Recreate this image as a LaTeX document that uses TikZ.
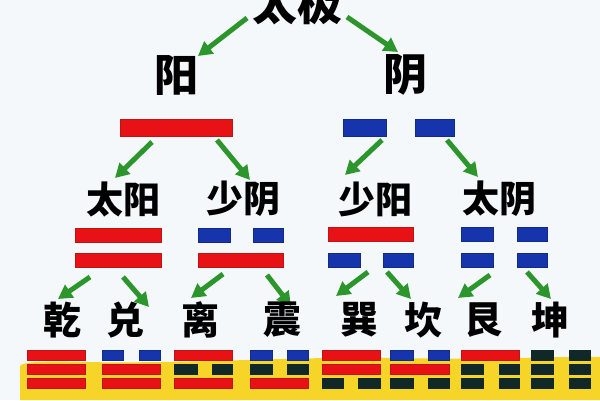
\documentclass[tikz,border=0pt]{standalone}
\usepackage{fontspec}
\newfontfamily\cjk{Noto Sans CJK SC}
\usetikzlibrary{arrows.meta}
\definecolor{bg}{RGB}{244,248,251}
\definecolor{yred}{RGB}{232,18,22}
\definecolor{yredd}{RGB}{190,20,20}
\definecolor{yblue}{RGB}{22,52,172}
\definecolor{ydark}{RGB}{16,40,40}
\definecolor{ygreen}{RGB}{44,150,44}
\definecolor{yyellow}{RGB}{247,212,40}
\tikzset{
  lbl/.style={font=\cjk\bfseries\fontsize{#1}{#1}\selectfont, text=black, inner sep=0pt},
  arr/.style={draw=ygreen, line width=5pt, -{Triangle[length=14pt,width=15pt]}},
  rbar/.style={fill=yred, draw=yredd, line width=0.6pt},
  bbar/.style={fill=yblue, draw=yblue!80!black, line width=0.6pt},
  dbar/.style={fill=ydark, draw=ydark, line width=0.6pt}
}
\newcommand\hbr[4]{\path[#1] (#2,#4) rectangle (#3,#4+10);}
\begin{document}
\begin{tikzpicture}[x=1pt,y=-1pt]
\useasboundingbox (0,0) rectangle (600,400);
\clip (0,0) rectangle (600,400);
\fill[bg] (0,0) rectangle (600,400);
% yellow band
\fill[yyellow] (20,400) -- (20,366) .. controls (22,362) and (40,361) .. (80,362)
  .. controls (200,364) and (300,356) .. (400,358) .. controls (500,360) and (560,356) .. (600,357)
  -- (600,400) -- cycle;
% top level
\node[lbl=45] (tj) at (297,3) {太极};
\node[lbl=44] (yang) at (176,75) {阳};
\node[lbl=44] (yin) at (405,75) {阴};
\coordinate (a1s) at (247,18); \coordinate (a1e) at (198,56);
\coordinate (a2s) at (347,17); \coordinate (a2e) at (398,52);
\draw[arr] (a1s) -- (a1e);
\draw[arr] (a2s) -- (a2e);
% level 1 bars
\path[rbar] (120,119) rectangle (232,136);
\path[bbar] (343,119) rectangle (386,136);
\path[bbar] (415,119) rectangle (454,136);
\coordinate (b1s) at (152,142); \coordinate (b1e) at (115,178);
\coordinate (b2s) at (217,140); \coordinate (b2e) at (250,180);
\coordinate (b3s) at (382,140); \coordinate (b3e) at (345,175);
\coordinate (b4s) at (447,140); \coordinate (b4e) at (478,177);
\foreach \i in {1,2,3,4}{\draw[arr] (b\i s) -- (b\i e);}
% level 2 labels
\node[lbl=37] (ty) at (123,199) {太阳};
\node[lbl=37] (sy) at (243,199) {少阴};
\node[lbl=37] (sya) at (375,199) {少阳};
\node[lbl=37] (tyi) at (499,199) {太阴};
% level 2 bars
\path[rbar] (75,228) rectangle (161,242);
\path[rbar] (75,253) rectangle (161,267);
\path[bbar] (198,228) rectangle (230,242);
\path[bbar] (253,228) rectangle (283,242);
\path[rbar] (198,253) rectangle (283,267);
\path[rbar] (328,227) rectangle (413,241);
\path[bbar] (328,253) rectangle (360,267);
\path[bbar] (383,253) rectangle (413,267);
\path[bbar] (461,227) rectangle (493,241);
\path[bbar] (517,227) rectangle (547,241);
\path[bbar] (461,253) rectangle (493,267);
\path[bbar] (517,253) rectangle (547,267);
% level 2 arrows
\coordinate (c1s) at (90,277);  \coordinate (c1e) at (58,299);
\coordinate (c2s) at (123,277); \coordinate (c2e) at (149,307);
\coordinate (c3s) at (223,274); \coordinate (c3e) at (191,298);
\coordinate (c4s) at (267,275); \coordinate (c4e) at (291,306);
\coordinate (c5s) at (368,272); \coordinate (c5e) at (336,296);
\coordinate (c6s) at (387,272); \coordinate (c6e) at (411,299);
\coordinate (c7s) at (490,275); \coordinate (c7e) at (458,298);
\coordinate (c8s) at (527,272); \coordinate (c8e) at (551,299);
\foreach \i in {1,...,8}{\draw[arr] (c\i s) -- (c\i e);}
% trigram names
\node[lbl=38] (qian) at (62,320) {乾};
\node[lbl=38] (dui) at (125,320) {兑};
\node[lbl=38] (li) at (200,320) {离};
\node[lbl=38] (zhen) at (282,320) {震};
\node[lbl=38] (xun) at (359,320) {巽};
\node[lbl=38] (kan) at (423,320) {坎};
\node[lbl=38] (gen) at (483,320) {艮};
\node[lbl=38] (kun) at (550,320) {坤};
% trigrams: rows y=350,364,378
% qian
\hbr{rbar}{27}{85}{350} \hbr{rbar}{27}{85}{364} \hbr{rbar}{27}{85}{378}
% dui
\hbr{bbar}{102}{123}{350} \hbr{bbar}{139}{160}{350}
\hbr{rbar}{102}{160}{364} \hbr{rbar}{102}{160}{378}
% li
\hbr{rbar}{174}{232}{350}
\hbr{dbar}{174}{197}{364} \hbr{dbar}{212}{232}{364}
\hbr{rbar}{174}{232}{378}
% zhen
\hbr{bbar}{250}{272}{350} \hbr{bbar}{287}{308}{350}
\hbr{dbar}{250}{272}{364} \hbr{dbar}{287}{308}{364}
\hbr{rbar}{250}{308}{378}
% xun
\hbr{rbar}{322}{380}{350} \hbr{rbar}{322}{380}{364}
\hbr{dbar}{322}{343}{378} \hbr{dbar}{358}{380}{378}
% kan
\hbr{bbar}{390}{413}{350} \hbr{bbar}{428}{449}{350}
\hbr{rbar}{390}{449}{364}
\hbr{dbar}{390}{413}{378} \hbr{dbar}{428}{449}{378}
% gen
\hbr{rbar}{461}{519}{350}
\hbr{dbar}{461}{483}{364} \hbr{dbar}{499}{519}{364}
\hbr{dbar}{461}{483}{378} \hbr{dbar}{499}{519}{378}
% kun
\hbr{dbar}{531}{553}{350} \hbr{dbar}{569}{590}{350}
\hbr{dbar}{531}{553}{364} \hbr{dbar}{569}{590}{364}
\hbr{dbar}{531}{553}{378} \hbr{dbar}{569}{590}{378}
\end{tikzpicture}
\end{document}
